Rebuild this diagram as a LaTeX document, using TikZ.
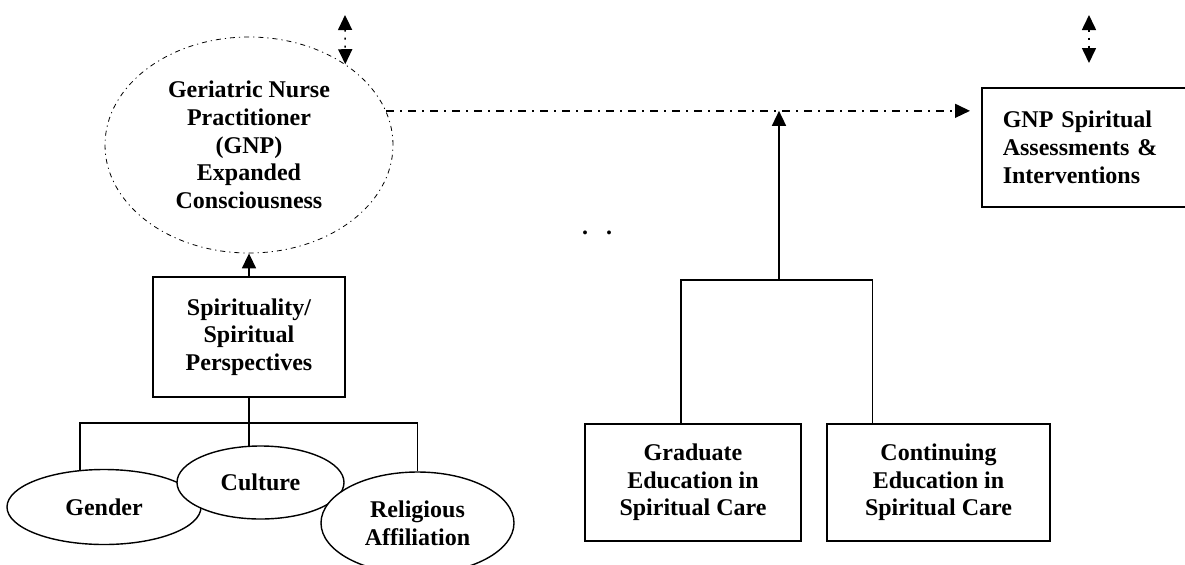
\documentclass[tikz,border=0pt]{standalone}
\usepackage{fontspec}
\setmainfont{Liberation Serif}
\usetikzlibrary{arrows.meta, shapes.geometric, calc}

\begin{document}
\begin{tikzpicture}[
  x=0.5pt, y=-0.5pt,
  >={Triangle[length=7.5pt,width=7pt]},
  every node/.style={font=\fontsize{12}{13.8}\selectfont\bfseries, align=center},
  oval/.style={draw, ellipse, line width=0.7pt, fill=white, inner sep=0pt},
  haze/.style={draw, ellipse, line width=0.4pt, inner sep=0pt,
               dash pattern=on 2.5pt off 2pt on 0.6pt off 2pt},
  box/.style={draw, line width=0.8pt, inner sep=0pt},
  link/.style={line width=0.8pt},
  arr/.style={line width=0.8pt, ->},
  dd/.style={line width=0.7pt, ->, dash pattern=on 4pt off 3pt on 1pt off 3pt},
  dots/.style={line width=0.8pt, <->, dash pattern=on 1pt off 3pt}
]
  \useasboundingbox (0,0) rectangle (1185,564);

  % consciousness and its roots
  \node[haze, minimum width=144pt, minimum height=108pt] (gnp) at (249,145)
    {Geriatric Nurse\\Practitioner\\(GNP)\\Expanded\\Consciousness};
  \node[box, minimum width=96pt, minimum height=60pt] (spirit) at (249,337)
    {Spirituality/\\Spiritual\\Perspectives};
  \node[oval, minimum width=97pt, minimum height=37.5pt] (gender) at (104,507) {Gender};
  \node[oval, minimum width=83.5pt, minimum height=36.5pt] (culture) at (260.5,482.5) {Culture};
  \node[oval, minimum width=96.5pt, minimum height=51pt] (religious) at (417.5,523)
    {Religious\\Affiliation};

  % education side
  \node[box, minimum width=108pt, minimum height=58.5pt] (grad) at (693,482.5)
    {Graduate\\Education in\\Spiritual Care};
  \node[box, minimum width=111.5pt, minimum height=58.5pt] (cont) at (938.5,482.5)
    {Continuing\\Education in\\Spiritual Care};
  \node[box, anchor=north west, inner xsep=10.5pt, text width=86pt, align=left,
        minimum height=59.5pt] (gnpbox) at (981,87)
    {GNP Spiritual\\Assessments \&\\Interventions};

  \node[anchor=base] (specks) at (597,234) {.\hspace{9pt}.};

  % connectors
  \draw[arr] (spirit.north) -- (gnp.south);
  \coordinate (lj) at ($(spirit.south)+(0,25)$);
  \draw[link] (spirit.south) -- (lj);
  \draw[link] (gender.123) |- (lj) -| (religious.north);
  \draw[link] (culture.107) -- (culture.107 |- lj);

  \coordinate (edu) at (779,280);
  \draw[link] ($(grad.north west)!0.445!(grad.north east)$) |- (edu);
  \draw[link] ($(cont.north west)!0.206!(cont.north east)$) |- (edu);
  \draw[arr] (edu) -- (edu |- gnp.14);
  \draw[dd, shorten >=5.5pt] (gnp.14) -- (gnp.14 -| gnpbox.west);

  \coordinate (tl) at (345,15);
  \draw[dots] (tl) -- (gnp.40);
  \coordinate (tr1) at (1089,15);
  \coordinate (tr2) at (1089,63);
  \draw[dots] (tr1) -- (tr2);
\end{tikzpicture}
\end{document}
